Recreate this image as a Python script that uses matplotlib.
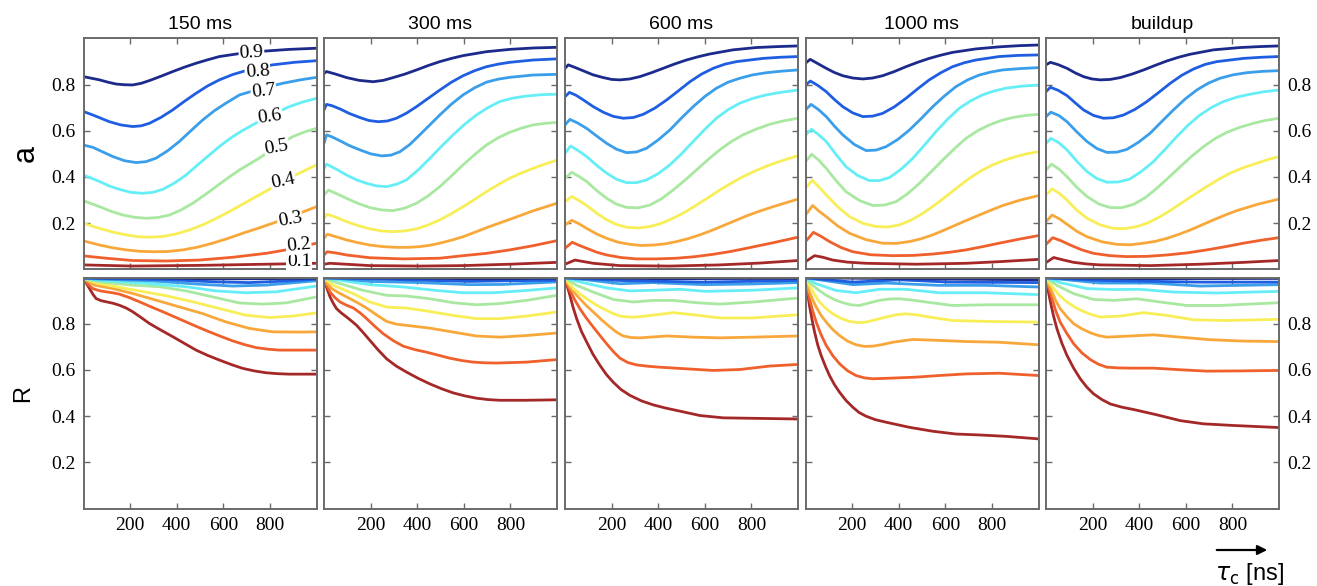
import matplotlib
matplotlib.use("Agg")
import matplotlib.pyplot as plt

LEVELS = [0.1, 0.2, 0.3, 0.4, 0.5, 0.6, 0.7, 0.8, 0.9]
LEVEL_LABELS = ["0.1", "0.2", "0.3", "0.4", "0.5", "0.6", "0.7", "0.8", "0.9"]
COLORS = ["#a52828", "#f0602c", "#f8a83a", "#f8ee58", "#a8e8a0",
          "#66eef6", "#3a9eea", "#1f5ee0", "#1c2a8c"]
TITLES = ["150 ms", "300 ms", "600 ms", "1000 ms", "buildup"]
XTICKS = [200, 400, 600, 800]
YTICKS = [0.2, 0.4, 0.6, 0.8]

# ---- top row: a vs tau_c, one list of (x, y) readings per level 0.1 ... 0.9 ----
A_150 = [
    [(0, 0.019), (211, 0.014), (497, 0.017), (783, 0.022), (1000, 0.026)],
    [(0, 0.058), (97, 0.048), (211, 0.038), (354, 0.036), (497, 0.04), (640, 0.052), (783, 0.069), (869, 0.084), (1000, 0.113)],
    [(0, 0.123), (69, 0.105), (126, 0.093), (183, 0.084), (240, 0.078), (297, 0.076), (361, 0.077), (426, 0.084), (490, 0.096), (554, 0.113), (618, 0.133), (683, 0.156), (747, 0.177), (811, 0.199), (905, 0.234), (1000, 0.271)],
    [(0, 0.199), (69, 0.177), (126, 0.161), (183, 0.149), (233, 0.141), (283, 0.139), (340, 0.142), (397, 0.153), (454, 0.170), (511, 0.192), (569, 0.220), (626, 0.25), (690, 0.286), (754, 0.322), (840, 0.370), (926, 0.416), (1000, 0.452)],
    [(0, 0.297), (69, 0.271), (119, 0.251), (169, 0.235), (219, 0.225), (269, 0.221), (319, 0.224), (369, 0.235), (419, 0.257), (469, 0.286), (519, 0.321), (569, 0.358), (619, 0.395), (669, 0.43), (754, 0.481), (825, 0.53), (897, 0.574), (950, 0.595), (1000, 0.61)],
    [(0, 0.408), (69, 0.38), (110, 0.361), (154, 0.346), (204, 0.333), (254, 0.329), (297, 0.333), (340, 0.346), (390, 0.373), (440, 0.408), (490, 0.452), (540, 0.495), (590, 0.537), (640, 0.574), (683, 0.601), (726, 0.625), (805, 0.668), (883, 0.704), (940, 0.724), (1000, 0.74)],
    [(0, 0.538), (40, 0.528), (126, 0.488), (176, 0.470), (226, 0.462), (268, 0.466), (311, 0.481), (361, 0.513), (411, 0.553), (461, 0.600), (511, 0.646), (561, 0.686), (611, 0.719), (670, 0.755), (760, 0.782), (854, 0.805), (930, 0.820), (1000, 0.831)],
    [(0, 0.683), (40, 0.668), (111, 0.639), (160, 0.625), (211, 0.618), (247, 0.621), (283, 0.632), (333, 0.658), (383, 0.69), (433, 0.727), (483, 0.762), (533, 0.794), (583, 0.82), (640, 0.843), (697, 0.86), (811, 0.885), (905, 0.896), (1000, 0.903)],
    [(0, 0.834), (69, 0.82), (105, 0.810), (140, 0.802), (175, 0.799), (211, 0.798), (247, 0.805), (283, 0.817), (333, 0.836), (383, 0.856), (433, 0.875), (483, 0.892), (533, 0.907), (583, 0.921), (683, 0.936), (783, 0.945), (883, 0.952), (1000, 0.957)],
]
A_300 = [
    [(0, 0.022), (26, 0.026), (197, 0.016), (411, 0.014), (597, 0.016), (797, 0.022), (1000, 0.03)],
    [(0, 0.062), (14, 0.076), (55, 0.070), (97, 0.062), (197, 0.05), (340, 0.045), (497, 0.048), (597, 0.059), (697, 0.069), (797, 0.084), (897, 0.102), (1000, 0.124)],
    [(0, 0.134), (14, 0.152), (55, 0.140), (97, 0.127), (147, 0.115), (197, 0.105), (254, 0.098), (311, 0.095), (361, 0.095), (411, 0.098), (454, 0.104), (497, 0.113), (547, 0.126), (597, 0.141), (647, 0.160), (697, 0.18), (797, 0.216), (897, 0.253), (1000, 0.286)],
    [(0, 0.221), (14, 0.238), (55, 0.224), (97, 0.206), (147, 0.189), (197, 0.175), (247, 0.166), (297, 0.163), (347, 0.166), (397, 0.175), (447, 0.192), (497, 0.214), (547, 0.241), (597, 0.271), (647, 0.303), (697, 0.336), (747, 0.366), (797, 0.394), (847, 0.417), (897, 0.437), (950, 0.456), (1000, 0.473)],
    [(0, 0.322), (19, 0.343), (55, 0.327), (97, 0.307), (147, 0.285), (197, 0.267), (247, 0.257), (297, 0.254), (347, 0.265), (397, 0.286), (447, 0.318), (497, 0.358), (547, 0.404), (597, 0.452), (647, 0.497), (697, 0.538), (747, 0.569), (797, 0.593), (847, 0.611), (897, 0.625), (950, 0.632), (1000, 0.636)],
    [(0, 0.437), (11, 0.455), (50, 0.435), (97, 0.408), (140, 0.387), (183, 0.372), (226, 0.361), (269, 0.358), (311, 0.368), (354, 0.387), (404, 0.430), (454, 0.48), (504, 0.532), (554, 0.582), (604, 0.628), (654, 0.668), (704, 0.700), (754, 0.726), (810, 0.741), (869, 0.75), (935, 0.756), (1000, 0.758)],
    [(0, 0.545), (11, 0.582), (35, 0.573), (69, 0.556), (110, 0.535), (154, 0.517), (200, 0.500), (247, 0.491), (287, 0.494), (326, 0.509), (368, 0.540), (411, 0.582), (454, 0.625), (497, 0.668), (547, 0.715), (597, 0.755), (647, 0.786), (697, 0.81), (747, 0.823), (797, 0.831), (897, 0.841), (1000, 0.844)],
    [(0, 0.69), (11, 0.714), (35, 0.708), (69, 0.694), (110, 0.674), (154, 0.657), (193, 0.644), (233, 0.639), (272, 0.642), (311, 0.654), (354, 0.676), (397, 0.704), (447, 0.740), (497, 0.776), (547, 0.810), (597, 0.838), (647, 0.860), (697, 0.877), (747, 0.888), (797, 0.896), (897, 0.906), (1000, 0.911)],
    [(0, 0.848), (11, 0.856), (50, 0.845), (97, 0.83), (150, 0.818), (211, 0.812), (255, 0.818), (297, 0.83), (347, 0.845), (397, 0.863), (447, 0.882), (497, 0.899), (547, 0.913), (597, 0.925), (697, 0.942), (797, 0.952), (897, 0.958), (1000, 0.961)],
]
A_600 = [
    [(0, 0.022), (43, 0.04), (121, 0.026), (236, 0.016), (450, 0.014), (664, 0.019), (836, 0.027), (1000, 0.038)],
    [(0, 0.091), (31, 0.117), (60, 0.104), (93, 0.091), (136, 0.074), (179, 0.062), (240, 0.051), (307, 0.045), (393, 0.045), (479, 0.048), (560, 0.055), (636, 0.065), (710, 0.077), (779, 0.091), (893, 0.115), (1000, 0.139)],
    [(0, 0.192), (29, 0.212), (60, 0.197), (93, 0.177), (136, 0.153), (179, 0.134), (229, 0.117), (279, 0.108), (329, 0.103), (379, 0.105), (429, 0.110), (479, 0.12), (529, 0.133), (579, 0.149), (629, 0.168), (679, 0.189), (729, 0.210), (779, 0.231), (836, 0.252), (893, 0.271), (1000, 0.304)],
    [(0, 0.293), (29, 0.315), (60, 0.298), (93, 0.276), (136, 0.243), (179, 0.214), (221, 0.194), (264, 0.182), (314, 0.179), (364, 0.185), (414, 0.199), (464, 0.221), (514, 0.247), (564, 0.278), (614, 0.310), (664, 0.343), (714, 0.373), (764, 0.401), (821, 0.428), (879, 0.452), (940, 0.473), (1000, 0.492)],
    [(0, 0.394), (29, 0.42), (60, 0.402), (93, 0.38), (136, 0.341), (179, 0.307), (221, 0.282), (264, 0.268), (314, 0.266), (364, 0.278), (414, 0.305), (464, 0.343), (514, 0.385), (564, 0.43), (614, 0.475), (664, 0.517), (714, 0.553), (764, 0.582), (821, 0.607), (879, 0.628), (940, 0.643), (1000, 0.654)],
    [(0, 0.502), (24, 0.534), (58, 0.513), (93, 0.488), (136, 0.450), (179, 0.416), (221, 0.390), (264, 0.375), (307, 0.375), (350, 0.387), (400, 0.414), (450, 0.452), (500, 0.500), (550, 0.553), (600, 0.606), (650, 0.654), (700, 0.691), (750, 0.719), (807, 0.740), (864, 0.755), (932, 0.767), (1000, 0.776)],
    [(0, 0.625), (21, 0.649), (55, 0.633), (93, 0.61), (136, 0.577), (179, 0.545), (221, 0.520), (264, 0.505), (307, 0.508), (350, 0.524), (400, 0.560), (450, 0.603), (500, 0.655), (550, 0.704), (600, 0.748), (650, 0.784), (700, 0.810), (750, 0.827), (807, 0.842), (864, 0.851), (932, 0.858), (1000, 0.863)],
    [(0, 0.747), (19, 0.766), (48, 0.753), (79, 0.733), (120, 0.705), (164, 0.68), (207, 0.662), (250, 0.654), (293, 0.657), (336, 0.671), (386, 0.698), (436, 0.733), (486, 0.772), (536, 0.812), (586, 0.845), (636, 0.87), (686, 0.888), (736, 0.899), (850, 0.913), (925, 0.918), (1000, 0.921)],
    [(0, 0.87), (14, 0.885), (45, 0.873), (79, 0.859), (120, 0.842), (164, 0.83), (200, 0.822), (236, 0.82), (278, 0.824), (321, 0.834), (371, 0.851), (421, 0.87), (471, 0.889), (521, 0.906), (571, 0.920), (621, 0.932), (721, 0.95), (821, 0.96), (910, 0.964), (1000, 0.967)],
]
A_1000 = [
    [(0, 0.033), (39, 0.059), (75, 0.052), (117, 0.04), (180, 0.031), (260, 0.026), (474, 0.022), (689, 0.026), (831, 0.033), (1000, 0.043)],
    [(0, 0.12), (34, 0.16), (68, 0.142), (103, 0.12), (153, 0.094), (203, 0.076), (280, 0.063), (374, 0.059), (460, 0.060), (546, 0.066), (620, 0.074), (689, 0.084), (760, 0.098), (831, 0.113), (915, 0.130), (1000, 0.146)],
    [(0, 0.235), (31, 0.276), (60, 0.250), (89, 0.228), (139, 0.187), (189, 0.156), (260, 0.128), (331, 0.113), (389, 0.112), (446, 0.12), (496, 0.132), (546, 0.149), (596, 0.170), (646, 0.192), (696, 0.214), (746, 0.235), (796, 0.256), (846, 0.276), (923, 0.300), (1000, 0.319)],
    [(0, 0.351), (29, 0.385), (58, 0.356), (89, 0.322), (139, 0.270), (189, 0.228), (246, 0.199), (303, 0.185), (353, 0.183), (403, 0.192), (453, 0.213), (503, 0.242), (553, 0.277), (603, 0.315), (653, 0.355), (703, 0.394), (753, 0.426), (803, 0.452), (853, 0.472), (903, 0.488), (950, 0.500), (1000, 0.509)],
    [(0, 0.466), (27, 0.498), (57, 0.472), (89, 0.437), (131, 0.384), (174, 0.336), (231, 0.298), (289, 0.276), (339, 0.278), (389, 0.293), (439, 0.328), (489, 0.372), (539, 0.422), (589, 0.473), (639, 0.522), (689, 0.567), (739, 0.600), (789, 0.625), (839, 0.644), (889, 0.657), (945, 0.666), (1000, 0.671)],
    [(0, 0.582), (26, 0.606), (56, 0.583), (89, 0.553), (131, 0.497), (174, 0.444), (224, 0.406), (274, 0.384), (317, 0.384), (360, 0.397), (410, 0.433), (460, 0.48), (510, 0.537), (560, 0.596), (610, 0.650), (660, 0.697), (710, 0.730), (760, 0.755), (810, 0.772), (860, 0.784), (930, 0.793), (1000, 0.798)],
    [(0, 0.69), (24, 0.714), (55, 0.692), (89, 0.661), (124, 0.620), (160, 0.582), (210, 0.540), (260, 0.514), (303, 0.516), (346, 0.531), (396, 0.562), (446, 0.603), (496, 0.652), (546, 0.704), (596, 0.750), (646, 0.791), (696, 0.820), (746, 0.841), (796, 0.854), (846, 0.863), (923, 0.869), (1000, 0.873)],
    [(0, 0.798), (21, 0.815), (53, 0.796), (89, 0.769), (124, 0.735), (160, 0.704), (203, 0.677), (246, 0.661), (288, 0.663), (331, 0.675), (381, 0.703), (431, 0.74), (481, 0.781), (531, 0.82), (581, 0.851), (631, 0.877), (681, 0.894), (731, 0.906), (831, 0.921), (915, 0.926), (1000, 0.928)],
    [(0, 0.892), (20, 0.909), (52, 0.891), (89, 0.87), (124, 0.852), (160, 0.838), (203, 0.828), (246, 0.824), (288, 0.828), (331, 0.838), (381, 0.856), (431, 0.877), (481, 0.896), (531, 0.913), (581, 0.927), (631, 0.939), (731, 0.954), (831, 0.963), (915, 0.968), (1000, 0.971)],
]
A_BUILD = [
    [(0, 0.029), (33, 0.051), (76, 0.040), (119, 0.03), (176, 0.023), (233, 0.019), (447, 0.016), (661, 0.022), (847, 0.03), (1000, 0.038)],
    [(0, 0.108), (29, 0.137), (66, 0.123), (104, 0.105), (154, 0.084), (204, 0.069), (275, 0.059), (347, 0.055), (433, 0.056), (519, 0.062), (605, 0.071), (690, 0.084), (770, 0.098), (847, 0.113), (925, 0.126), (1000, 0.137)],
    [(0, 0.206), (26, 0.235), (58, 0.218), (90, 0.195), (133, 0.164), (176, 0.141), (240, 0.119), (304, 0.108), (361, 0.106), (419, 0.113), (469, 0.121), (519, 0.134), (569, 0.151), (619, 0.17), (669, 0.192), (719, 0.214), (769, 0.235), (819, 0.254), (910, 0.282), (1000, 0.304)],
    [(0, 0.322), (26, 0.348), (58, 0.328), (90, 0.3), (133, 0.255), (176, 0.221), (233, 0.192), (290, 0.177), (340, 0.176), (390, 0.185), (440, 0.202), (490, 0.228), (540, 0.259), (590, 0.293), (640, 0.326), (690, 0.358), (740, 0.389), (790, 0.416), (847, 0.440), (904, 0.459), (952, 0.475), (1000, 0.488)],
    [(0, 0.43), (24, 0.455), (57, 0.433), (90, 0.401), (133, 0.354), (176, 0.315), (226, 0.283), (276, 0.267), (326, 0.267), (376, 0.281), (426, 0.310), (476, 0.351), (526, 0.397), (576, 0.444), (626, 0.490), (676, 0.531), (726, 0.566), (776, 0.593), (833, 0.615), (890, 0.632), (945, 0.645), (1000, 0.654)],
    [(0, 0.545), (21, 0.567), (55, 0.548), (90, 0.517), (133, 0.467), (176, 0.423), (218, 0.393), (261, 0.377), (310, 0.378), (360, 0.391), (410, 0.424), (461, 0.466), (511, 0.519), (561, 0.574), (611, 0.625), (661, 0.668), (711, 0.701), (761, 0.726), (818, 0.745), (876, 0.758), (938, 0.769), (1000, 0.776)],
    [(0, 0.661), (21, 0.68), (55, 0.666), (90, 0.639), (133, 0.594), (176, 0.553), (218, 0.523), (261, 0.506), (304, 0.507), (347, 0.519), (397, 0.550), (447, 0.589), (497, 0.640), (547, 0.69), (597, 0.737), (647, 0.776), (697, 0.806), (747, 0.827), (804, 0.842), (861, 0.851), (930, 0.857), (1000, 0.86)],
    [(0, 0.769), (19, 0.788), (52, 0.775), (90, 0.752), (126, 0.720), (161, 0.69), (204, 0.666), (247, 0.654), (290, 0.656), (333, 0.668), (383, 0.693), (433, 0.726), (483, 0.765), (533, 0.805), (583, 0.840), (633, 0.867), (683, 0.887), (733, 0.899), (847, 0.913), (925, 0.918), (1000, 0.921)],
    [(0, 0.885), (19, 0.896), (52, 0.886), (90, 0.87), (126, 0.850), (161, 0.834), (197, 0.824), (233, 0.82), (276, 0.822), (319, 0.83), (369, 0.845), (419, 0.863), (469, 0.883), (519, 0.902), (569, 0.918), (619, 0.931), (719, 0.95), (833, 0.96), (915, 0.964), (1000, 0.967)],
]

# ---- bottom row: R vs tau_c, one list of (x, y) readings per level 0.1 ... 0.9 ----
R_150 = [
    [(0, 0.996), (12, 0.975), (26, 0.952), (40, 0.928), (54, 0.909), (75, 0.900), (97, 0.895), (125, 0.889), (154, 0.88), (183, 0.868), (211, 0.852), (247, 0.827), (283, 0.801), (333, 0.772), (383, 0.744), (433, 0.715), (483, 0.686), (533, 0.663), (583, 0.643), (633, 0.624), (683, 0.607), (733, 0.596), (783, 0.588), (833, 0.584), (883, 0.582), (1000, 0.582)],
    [(0, 0.996), (18, 0.972), (40, 0.952), (68, 0.943), (97, 0.938), (125, 0.934), (154, 0.928), (197, 0.913), (240, 0.895), (290, 0.873), (340, 0.852), (390, 0.830), (440, 0.808), (490, 0.786), (540, 0.765), (590, 0.745), (640, 0.726), (690, 0.710), (740, 0.697), (790, 0.690), (840, 0.686), (1000, 0.686)],
    [(0, 0.996), (47, 0.967), (126, 0.952), (211, 0.931), (311, 0.902), (411, 0.873), (511, 0.844), (611, 0.808), (711, 0.78), (811, 0.765), (926, 0.764), (1000, 0.765)],
    [(0, 0.996), (54, 0.977), (140, 0.96), (240, 0.942), (354, 0.921), (469, 0.895), (583, 0.866), (697, 0.837), (797, 0.827), (897, 0.833), (1000, 0.847)],
    [(0, 0.996), (69, 0.981), (211, 0.967), (326, 0.96), (440, 0.942), (554, 0.916), (669, 0.89), (769, 0.885), (869, 0.89), (1000, 0.916)],
    [(0, 0.996), (69, 0.988), (283, 0.974), (440, 0.96), (569, 0.942), (697, 0.934), (826, 0.938), (1000, 0.963)],
    [(0, 0.997), (69, 0.993), (283, 0.986), (497, 0.971), (640, 0.963), (783, 0.967), (1000, 0.986)],
    [(0, 0.998), (69, 0.996), (354, 0.991), (569, 0.981), (711, 0.978), (854, 0.984), (1000, 0.993)],
    [(0, 0.999), (300, 0.998), (569, 0.994), (800, 0.995), (1000, 0.997)],
]
R_300 = [
    [(0, 0.998), (12, 0.955), (26, 0.916), (40, 0.888), (54, 0.865), (75, 0.846), (97, 0.829), (118, 0.812), (140, 0.793), (168, 0.762), (197, 0.728), (233, 0.686), (269, 0.648), (310, 0.617), (354, 0.591), (404, 0.564), (454, 0.54), (504, 0.519), (554, 0.501), (604, 0.488), (654, 0.478), (704, 0.472), (754, 0.469), (869, 0.469), (1000, 0.471)],
    [(0, 0.998), (12, 0.965), (26, 0.937), (47, 0.913), (69, 0.894), (97, 0.880), (126, 0.868), (155, 0.847), (183, 0.822), (218, 0.789), (254, 0.757), (297, 0.727), (340, 0.703), (390, 0.688), (440, 0.677), (490, 0.664), (540, 0.651), (590, 0.641), (640, 0.634), (690, 0.631), (740, 0.63), (869, 0.634), (1000, 0.645)],
    [(0, 0.998), (15, 0.972), (33, 0.952), (65, 0.933), (97, 0.916), (140, 0.893), (183, 0.868), (226, 0.838), (269, 0.81), (311, 0.798), (354, 0.793), (454, 0.781), (554, 0.764), (654, 0.747), (754, 0.742), (869, 0.749), (1000, 0.76)],
    [(0, 0.998), (40, 0.966), (126, 0.93), (197, 0.894), (269, 0.872), (354, 0.868), (454, 0.853), (554, 0.836), (654, 0.822), (754, 0.822), (869, 0.833), (1000, 0.851)],
    [(0, 0.998), (54, 0.978), (169, 0.944), (269, 0.923), (354, 0.92), (454, 0.908), (554, 0.891), (654, 0.882), (754, 0.887), (869, 0.901), (1000, 0.923)],
    [(0, 0.998), (69, 0.988), (197, 0.969), (340, 0.959), (483, 0.944), (597, 0.934), (726, 0.934), (869, 0.944), (1000, 0.955)],
    [(0, 0.998), (69, 0.995), (197, 0.983), (411, 0.978), (626, 0.969), (769, 0.97), (1000, 0.981)],
    [(0, 0.999), (200, 0.994), (626, 0.983), (800, 0.986), (1000, 0.988)],
    [(0, 0.999), (400, 0.997), (700, 0.994), (1000, 0.997)],
]
R_600 = [
    [(0, 0.998), (10, 0.962), (21, 0.923), (35, 0.870), (50, 0.822), (70, 0.768), (93, 0.721), (120, 0.668), (150, 0.62), (178, 0.580), (207, 0.547), (241, 0.515), (279, 0.49), (329, 0.466), (379, 0.449), (429, 0.436), (479, 0.425), (579, 0.403), (679, 0.393), (807, 0.391), (1000, 0.388)],
    [(0, 0.998), (10, 0.970), (21, 0.944), (42, 0.903), (64, 0.865), (92, 0.824), (121, 0.786), (150, 0.749), (179, 0.713), (207, 0.680), (236, 0.651), (270, 0.632), (307, 0.622), (357, 0.616), (407, 0.612), (521, 0.605), (636, 0.598), (750, 0.602), (879, 0.617), (1000, 0.624)],
    [(0, 0.998), (10, 0.978), (21, 0.959), (42, 0.932), (64, 0.908), (92, 0.878), (121, 0.851), (157, 0.817), (193, 0.786), (222, 0.763), (250, 0.747), (285, 0.740), (321, 0.739), (436, 0.747), (550, 0.742), (664, 0.739), (807, 0.742), (1000, 0.747)],
    [(0, 0.998), (18, 0.974), (36, 0.952), (64, 0.929), (93, 0.908), (128, 0.885), (164, 0.865), (200, 0.847), (236, 0.833), (271, 0.829), (307, 0.829), (393, 0.839), (464, 0.848), (550, 0.839), (664, 0.825), (807, 0.825), (1000, 0.839)],
    [(0, 0.998), (50, 0.966), (121, 0.937), (207, 0.905), (293, 0.894), (379, 0.901), (464, 0.901), (564, 0.891), (664, 0.885), (807, 0.894), (1000, 0.911)],
    [(0, 0.998), (64, 0.981), (179, 0.955), (279, 0.942), (379, 0.945), (493, 0.949), (607, 0.94), (807, 0.945), (1000, 0.955)],
    [(0, 0.998), (93, 0.99), (236, 0.973), (379, 0.978), (593, 0.969), (807, 0.972), (1000, 0.978)],
    [(0, 0.999), (236, 0.987), (593, 0.98), (1000, 0.987)],
    [(0, 0.999), (400, 0.995), (1000, 0.996)],
]
R_1000 = [
    [(0, 0.998), (8, 0.94), (17, 0.879), (28, 0.818), (39, 0.764), (52, 0.710), (67, 0.663), (85, 0.617), (103, 0.576), (124, 0.537), (146, 0.504), (174, 0.468), (203, 0.439), (230, 0.416), (260, 0.4), (300, 0.385), (346, 0.374), (446, 0.352), (546, 0.335), (646, 0.323), (746, 0.319), (860, 0.313), (1000, 0.302)],
    [(0, 0.998), (8, 0.952), (17, 0.908), (31, 0.855), (46, 0.807), (67, 0.752), (89, 0.706), (117, 0.662), (146, 0.627), (180, 0.597), (217, 0.576), (252, 0.566), (289, 0.562), (374, 0.565), (474, 0.569), (574, 0.576), (689, 0.583), (831, 0.586), (1000, 0.576)],
    [(0, 0.998), (8, 0.965), (17, 0.937), (31, 0.903), (46, 0.872), (67, 0.836), (89, 0.807), (117, 0.775), (146, 0.749), (180, 0.725), (217, 0.709), (252, 0.702), (289, 0.703), (330, 0.710), (374, 0.72), (460, 0.732), (574, 0.728), (689, 0.723), (831, 0.72), (1000, 0.709)],
    [(0, 0.998), (12, 0.975), (24, 0.952), (42, 0.921), (60, 0.894), (88, 0.866), (117, 0.843), (153, 0.823), (189, 0.81), (225, 0.805), (260, 0.807), (303, 0.818), (346, 0.829), (390, 0.839), (431, 0.843), (480, 0.838), (531, 0.829), (631, 0.814), (774, 0.81), (1000, 0.807)],
    [(0, 0.998), (15, 0.982), (31, 0.966), (60, 0.943), (89, 0.923), (125, 0.904), (160, 0.891), (195, 0.882), (231, 0.879), (274, 0.890), (317, 0.901), (360, 0.907), (403, 0.908), (460, 0.902), (517, 0.894), (631, 0.879), (774, 0.882), (1000, 0.882)],
    [(0, 0.998), (46, 0.973), (131, 0.944), (217, 0.934), (317, 0.949), (431, 0.949), (574, 0.934), (774, 0.934), (1000, 0.926)],
    [(0, 0.998), (60, 0.99), (203, 0.969), (346, 0.976), (574, 0.966), (774, 0.966), (1000, 0.959)],
    [(0, 0.999), (203, 0.98), (403, 0.99), (617, 0.98), (1000, 0.978)],
    [(0, 0.999), (400, 0.995), (1000, 0.99)],
]
R_BUILD = [
    [(0, 0.998), (9, 0.945), (19, 0.894), (32, 0.835), (47, 0.778), (68, 0.716), (90, 0.663), (118, 0.609), (147, 0.562), (175, 0.526), (204, 0.497), (240, 0.472), (276, 0.453), (326, 0.439), (376, 0.429), (476, 0.406), (576, 0.381), (676, 0.367), (804, 0.36), (1000, 0.351)],
    [(0, 0.998), (12, 0.955), (26, 0.908), (42, 0.855), (61, 0.807), (90, 0.757), (119, 0.713), (154, 0.674), (190, 0.645), (225, 0.625), (261, 0.612), (311, 0.609), (361, 0.608), (461, 0.608), (576, 0.601), (690, 0.595), (833, 0.596), (1000, 0.598)],
    [(0, 0.998), (12, 0.970), (26, 0.937), (42, 0.899), (61, 0.865), (90, 0.830), (119, 0.8), (154, 0.778), (190, 0.761), (225, 0.749), (261, 0.742), (361, 0.747), (461, 0.752), (576, 0.742), (704, 0.731), (847, 0.725), (1000, 0.723)],
    [(0, 0.998), (15, 0.977), (33, 0.952), (60, 0.920), (90, 0.894), (125, 0.871), (161, 0.853), (197, 0.839), (233, 0.829), (319, 0.833), (419, 0.848), (519, 0.836), (633, 0.817), (776, 0.814), (1000, 0.819)],
    [(0, 0.998), (47, 0.966), (119, 0.93), (204, 0.905), (290, 0.901), (390, 0.908), (490, 0.894), (604, 0.879), (747, 0.879), (1000, 0.891)],
    [(0, 0.998), (61, 0.978), (176, 0.952), (290, 0.948), (404, 0.949), (547, 0.937), (733, 0.933), (1000, 0.94)],
    [(0, 0.998), (90, 0.99), (233, 0.976), (447, 0.976), (661, 0.963), (1000, 0.969)],
    [(0, 0.999), (233, 0.987), (661, 0.98), (1000, 0.98)],
    [(0, 0.999), (400, 0.995), (1000, 0.996)],
]

# inline contour labels in the first panel (x, y, rotation)
LABEL_POS = [(926, 0.033, 0), (923, 0.105, 6), (886, 0.216, 10), (857, 0.380, 12),
             (829, 0.528, 10), (800, 0.661, 8), (773, 0.769, 6), (747, 0.856, 4),
             (721, 0.935, 3)]

TOP_DATA = [A_150, A_300, A_600, A_1000, A_BUILD]
BOT_DATA = [R_150, R_300, R_600, R_1000, R_BUILD]

W, H = 1317, 586
fig = plt.figure(figsize=(W / 100, H / 100), dpi=100)
serif = ["Liberation Serif", "DejaVu Serif"]
sans = ["Liberation Sans", "DejaVu Sans"]
SPINE = "#6a6a6a"

lefts = [83.5, 324, 565, 805.5, 1046]
pw = 233
top_row = (38.3, 269.3)
bot_row = (277.5, 508.7)


def make_ax(left, row):
    t, b = row
    return fig.add_axes([left / W, 1 - b / H, pw / W, (b - t) / H])


for i in range(5):
    for r, (row, data) in enumerate([(top_row, TOP_DATA[i]), (bot_row, BOT_DATA[i])]):
        ax = make_ax(lefts[i], row)
        for k, curve in enumerate(data):
            pts = sorted(curve)
            xs = [p[0] for p in pts]
            ys = [p[1] for p in pts]
            ax.plot(xs, ys, color=COLORS[k], lw=2.0, solid_capstyle="round",
                    solid_joinstyle="round", zorder=2)
        ax.set_xlim(0, 1000)
        ax.set_ylim(0, 1)
        ax.set_xticks(XTICKS)
        ax.set_yticks(YTICKS)
        ax.tick_params(direction="in", length=4, width=1.0, color=SPINE,
                       top=True, right=True, bottom=True, left=True,
                       labelleft=(i == 0), labelright=(i == 4),
                       labelbottom=(r == 1), labelsize=14, pad=6)
        for lab in ax.get_xticklabels() + ax.get_yticklabels():
            lab.set_fontfamily(serif)
        for s in ax.spines.values():
            s.set_color(SPINE)
            s.set_linewidth(1.4)
        if r == 0:
            ax.set_title(TITLES[i], fontsize=14, family=sans, pad=7)
            if i == 0:
                for k, (lx, ly, rot) in enumerate(LABEL_POS):
                    ax.text(lx, ly, LEVEL_LABELS[k], fontsize=14, family=serif,
                            ha="center", va="center", rotation=rot, zorder=5,
                            bbox=dict(facecolor="white", edgecolor="none", pad=0.5))
                ax.set_ylabel("a", fontsize=22, family=sans, labelpad=7)
        else:
            if i == 0:
                ax.set_ylabel("R", fontsize=17, family=sans, labelpad=12)

# x-axis label with arrow in lower right
fig.patches.append(matplotlib.patches.FancyArrowPatch(
    (1214 / W, 1 - 550 / H), (1270 / W, 1 - 550 / H), transform=fig.transFigure,
    arrowstyle="-|>", mutation_scale=14, color="black", lw=1.6))
fig.text(1249 / W, 1 - 580 / H, r"$\tau_{\mathrm{c}}$ [ns]", fontsize=17,
         family=sans, ha="center", va="baseline")

fig.savefig("out.png", dpi=100)
